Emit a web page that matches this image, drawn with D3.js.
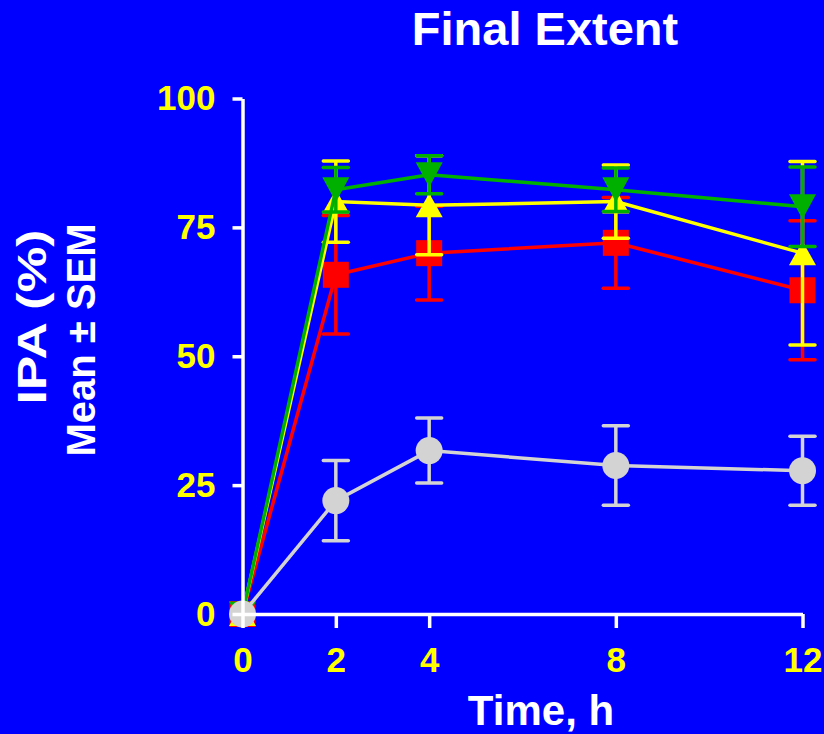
<!DOCTYPE html>
<html>
<head>
<meta charset="utf-8">
<script src="https://cdn.jsdelivr.net/npm/d3@7"></script>
<style>
  html, body { margin: 0; padding: 0; background: #0000FF; }
  svg { display: block; }
  text { font-family: "Liberation Sans", Arial, sans-serif; font-weight: bold; }
</style>
</head>
<body>
<svg id="chart" width="824" height="734"></svg>
<script>
// ---- data ----
const times = [0, 2, 4, 8, 12];
const xTickLabels = ["0", "2", "4", "8", "12"];
const yTickValues = [0, 25, 50, 75, 100];

const grayMean   = [0, 22.0, 31.7, 28.8, 27.8];
const graySem    = [0, 7.8, 6.3, 7.7, 6.7];
const redMean    = [0, 65.8, 70.0, 72.0, 62.8];
const redSem     = [0, 11.5, 9.1, 8.8, 13.5];
const yellowMean = [0, 80.0, 79.3, 80.0, 70.0];
const yellowSem  = [0, 7.9, 9.6, 7.1, 17.8];
const greenMean  = [0, 82.3, 85.2, 82.3, 79.0];
const greenSem   = [0, 4.3, 3.7, 4.2, 7.7];

const seriesList = [
  { name: "red",    mean: redMean,    sem: redSem,    color: "#FF0000", shape: "square" },
  { name: "yellow", mean: yellowMean, sem: yellowSem, color: "#FFFF00", shape: "triangleUp" },
  { name: "green",  mean: greenMean,  sem: greenSem,  color: "#00B000", shape: "triangleDown" },
  { name: "gray",   mean: grayMean,   sem: graySem,   color: "#D3D3D3", shape: "circle" }
];

// ---- layout ----
const svg = d3.select("#chart");
svg.append("rect").attr("width", 824).attr("height", 734).attr("fill", "#0000FF");

const x = d3.scaleLinear().domain([0, 12]).range([242.5, 802.5]);
const y = d3.scaleLinear().domain([0, 100]).range([614, 98.5]);

const lineW = 3.5;
const capHalf = 12.5;

const plot = svg.append("g");

seriesList.forEach(s => {
  const pts = times.map((t, i) => ({ t, m: s.mean[i], e: s.sem[i] }));
  const g = plot.append("g");
  // line
  g.append("path")
    .datum(pts)
    .attr("fill", "none")
    .attr("stroke", s.color)
    .attr("stroke-width", lineW)
    .attr("d", d3.line().x(d => x(d.t)).y(d => y(d.m)));
  // error bars
  const eb = g.selectAll(".eb").data(pts.filter(d => d.e > 0)).enter().append("g");
  eb.append("line")
    .attr("x1", d => x(d.t)).attr("x2", d => x(d.t))
    .attr("y1", d => y(d.m + d.e)).attr("y2", d => y(d.m - d.e))
    .attr("stroke", s.color).attr("stroke-width", lineW);
  eb.append("line")
    .attr("x1", d => x(d.t) - capHalf).attr("x2", d => x(d.t) + capHalf)
    .attr("y1", d => y(d.m + d.e)).attr("y2", d => y(d.m + d.e))
    .attr("stroke", s.color).attr("stroke-width", lineW).attr("stroke-linecap", "round");
  eb.append("line")
    .attr("x1", d => x(d.t) - capHalf).attr("x2", d => x(d.t) + capHalf)
    .attr("y1", d => y(d.m - d.e)).attr("y2", d => y(d.m - d.e))
    .attr("stroke", s.color).attr("stroke-width", lineW).attr("stroke-linecap", "round");
  // markers
  const mk = g.selectAll(".mk").data(pts).enter();
  if (s.shape === "circle") {
    mk.append("circle")
      .attr("cx", d => x(d.t)).attr("cy", d => y(d.m)).attr("r", 13.5)
      .attr("fill", s.color);
  } else if (s.shape === "square") {
    mk.append("rect")
      .attr("x", d => x(d.t) - 13).attr("y", d => y(d.m) - 13)
      .attr("width", 26).attr("height", 26)
      .attr("fill", s.color);
  } else if (s.shape === "triangleUp") {
    mk.append("path")
      .attr("d", d => {
        const cx = x(d.t), cy = y(d.m);
        return `M${cx},${cy - 12}L${cx + 13.5},${cy + 12}L${cx - 13.5},${cy + 12}Z`;
      })
      .attr("fill", s.color);
  } else {
    mk.append("path")
      .attr("d", d => {
        const cx = x(d.t), cy = y(d.m);
        return `M${cx - 13.5},${cy - 12.5}L${cx + 13.5},${cy - 12.5}L${cx},${cy + 12.5}Z`;
      })
      .attr("fill", s.color);
  }
});

// ---- axes ----
const yAxis = d3.axisLeft(y).tickValues(yTickValues).tickSize(10).tickSizeOuter(0).tickPadding(17);
const xAxis = d3.axisBottom(x).tickValues(times).tickFormat((d, i) => xTickLabels[i])
  .tickSize(14).tickSizeOuter(0).tickPadding(19);

const gy = svg.append("g").attr("transform", `translate(${x(0)},0)`).call(yAxis);
const gx = svg.append("g").attr("transform", `translate(0,${y(0)})`).call(xAxis);

[gx, gy].forEach(g => {
  g.selectAll("path.domain").attr("stroke", "#FFFFFF").attr("stroke-width", lineW);
  g.selectAll(".tick line").attr("stroke", "#FFFFFF").attr("stroke-width", lineW);
  g.selectAll(".tick text")
    .attr("fill", "#FFFF00")
    .style("font-size", "35px")
    .style("font-family", "'Liberation Sans', Arial, sans-serif")
    .style("font-weight", "bold");
});

// ---- titles ----
svg.append("text")
  .attr("x", 545).attr("y", 45)
  .attr("text-anchor", "middle")
  .attr("fill", "#FFFFFF")
  .style("font-size", "47px")
  .text("Final Extent");

svg.append("text")
  .attr("x", 541).attr("y", 725)
  .attr("text-anchor", "middle")
  .attr("fill", "#FFFFFF")
  .style("font-size", "42px")
  .text("Time, h");

svg.append("text")
  .attr("transform", "translate(46,317) rotate(-90)")
  .attr("text-anchor", "middle")
  .attr("fill", "#FFFFFF")
  .style("font-size", "40px")
  .attr("textLength", 175)
  .attr("lengthAdjust", "spacingAndGlyphs")
  .text("IPA (%)");

svg.append("text")
  .attr("transform", "translate(95,340) rotate(-90)")
  .attr("text-anchor", "middle")
  .attr("fill", "#FFFFFF")
  .style("font-size", "40px")
  .text("Mean ± SEM");
</script>
</body>
</html>
